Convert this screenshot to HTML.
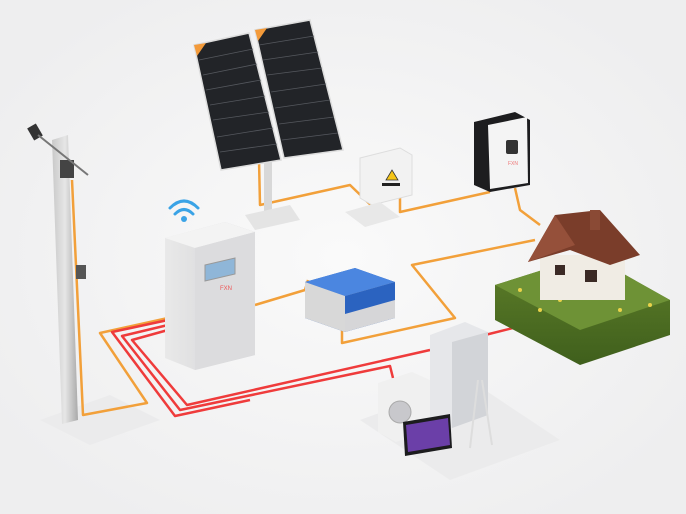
<!DOCTYPE html>
<html><head><meta charset="utf-8"><style>
html,body{margin:0;padding:0;background:#f4f4f5;}
svg{display:block}
</style></head><body>
<svg width="686" height="514" viewBox="0 0 686 514" xmlns="http://www.w3.org/2000/svg">
<defs>
<radialGradient id="bg" cx="50%" cy="50%" r="60%"><stop offset="0" stop-color="#fafafa"/><stop offset="1" stop-color="#eeeeef"/></radialGradient>
<linearGradient id="pole" x1="0" x2="1"><stop offset="0" stop-color="#c9c9c9"/><stop offset="0.5" stop-color="#e6e6e6"/><stop offset="1" stop-color="#a9a9a9"/></linearGradient>
<linearGradient id="cab" x1="0" x2="1"><stop offset="0" stop-color="#e9e9e9"/><stop offset="1" stop-color="#cfcfd2"/></linearGradient>
<linearGradient id="grass" x1="0" y1="0" x2="0" y2="1"><stop offset="0" stop-color="#5f7f2a"/><stop offset="1" stop-color="#3f5f1c"/></linearGradient>
</defs>
<rect width="686" height="514" fill="url(#bg)"/>
<!-- floor plates -->
<polygon points="40,420 110,395 160,420 90,445" fill="#ebebec"/>
<polygon points="360,420 470,380 560,440 450,480" fill="#ebebec"/>
<!-- orange wires -->
<g fill="none" stroke="#f2a03a" stroke-width="2.5" stroke-linejoin="round">
<polyline points="72,180 83,415 147,403 100,333 168,318"/>
<polyline points="255,305 305,290 308,280"/>
<polyline points="259,160 260,205 350,185 378,212"/>
<polyline points="400,198 400,212 490,192"/>
<polyline points="515,188 520,210 540,225"/>
<polyline points="342,330 342,343 455,318 412,265 535,240"/>
</g>
<!-- red wires -->
<g fill="none" stroke="#ef3b3b" stroke-width="2.5" stroke-linejoin="round">
<polyline points="168,330 132,340 187,405 430,350"/>
<polyline points="168,325 122,336 180,410 390,366 393,378"/>
<polyline points="168,320 112,332 175,416 250,400"/>
<polyline points="485,335 525,325"/>
</g>
<!-- pole -->
<polygon points="52,140 68,135 78,420 62,424" fill="url(#pole)"/>
<rect x="30" y="125" width="10" height="14" fill="#333" transform="rotate(-30 35 132)"/>
<rect x="60" y="160" width="14" height="18" fill="#444"/>
<rect x="76" y="265" width="10" height="14" fill="#555"/>
<line x1="38" y1="135" x2="88" y2="175" stroke="#777" stroke-width="2"/>
<!-- solar panel stand -->
<rect x="264" y="150" width="8" height="70" fill="#d8d8d8"/>
<polygon points="245,215 290,205 300,220 255,230" fill="#e4e4e4"/>
<!-- solar panels -->
<polygon points="194,45 249,33 281,160 221,170" fill="#222428" stroke="#ddd" stroke-width="1.5"/>
<polygon points="255,30 310,20 343,150 284,158" fill="#222428" stroke="#ddd" stroke-width="1.5"/>
<g stroke="#55585e" stroke-width="0.8">
<line x1="199" y1="60" x2="253" y2="49"/><line x1="203" y1="75" x2="257" y2="64"/><line x1="206" y1="90" x2="261" y2="80"/><line x1="210" y1="105" x2="265" y2="96"/><line x1="213" y1="120" x2="269" y2="112"/><line x1="217" y1="137" x2="273" y2="128"/><line x1="220" y1="152" x2="277" y2="144"/>
<line x1="259" y1="45" x2="314" y2="36"/><line x1="263" y1="60" x2="318" y2="52"/><line x1="267" y1="75" x2="322" y2="68"/><line x1="271" y1="92" x2="326" y2="84"/><line x1="275" y1="108" x2="330" y2="100"/><line x1="279" y1="124" x2="334" y2="117"/><line x1="282" y1="140" x2="338" y2="133"/>
</g>
<polygon points="194,45 206,43 197,56" fill="#f39a3a"/>
<polygon points="255,30 267,28 258,41" fill="#f39a3a"/>
<!-- combiner box -->
<polygon points="360,158 400,148 412,155 412,195 372,205 360,198" fill="#f2f2f2" stroke="#ddd"/>
<polygon points="386,180 392,170 398,180" fill="#f5c518" stroke="#333" stroke-width="0.8"/>
<rect x="382" y="183" width="18" height="3" fill="#222"/>
<polygon points="345,212 380,202 400,217 365,227" fill="#e8e8e8"/>
<!-- inverter -->
<polygon points="474,122 515,112 530,120 530,185 490,192 474,185" fill="#1d1d1f"/>
<polygon points="488,125 527,117 528,183 490,189" fill="#f4f4f4"/>
<rect x="506" y="140" width="12" height="14" rx="2" fill="#333"/>
<text x="508" y="165" font-family="Liberation Sans,sans-serif" font-size="5" fill="#e77">FXN</text>
<!-- wifi -->
<g fill="none" stroke="#3aa3e6" stroke-width="3" stroke-linecap="round">
<path d="M170 208 Q184 194 198 208"/><path d="M175 214 Q184 205 193 214"/>
</g>
<circle cx="184" cy="219" r="3" fill="#3aa3e6"/>
<!-- cabinet -->
<polygon points="165,238 225,222 255,232 255,355 195,370 165,358" fill="url(#cab)"/>
<polygon points="165,238 225,222 255,232 195,248" fill="#f3f3f3"/>
<polygon points="195,248 255,232 255,355 195,370" fill="#dcdcde"/>
<polygon points="205,265 235,258 235,274 205,281" fill="#8fb6d8" stroke="#999"/>
<text x="220" y="290" font-family="Liberation Sans,sans-serif" font-size="6" fill="#e55">FXN</text>
<!-- batteries -->
<polygon points="305,282 355,268 395,282 395,318 345,332 305,318" fill="#2b63c0"/>
<polygon points="305,282 355,268 395,282 345,296" fill="#4b86e0"/>
<polygon points="345,296 395,282 395,318 345,332" fill="#d6d6d8"/>
<polygon points="345,296 395,282 395,300 345,314" fill="#2b63c0"/>
<polygon points="305,282 345,296 345,332 305,318" fill="#d8d8d8"/>
<!-- house -->
<polygon points="495,285 590,255 670,300 670,335 580,365 495,320" fill="url(#grass)"/>
<polygon points="495,285 590,255 670,300 580,330" fill="#6e9236"/>
<g fill="#e9d24a"><circle cx="520" cy="290" r="2"/><circle cx="560" cy="300" r="2"/><circle cx="620" cy="310" r="2"/><circle cx="600" cy="280" r="2"/><circle cx="650" cy="305" r="2"/><circle cx="540" cy="310" r="2"/></g>
<rect x="540" y="255" width="85" height="45" fill="#f0ece4"/>
<polygon points="528,262 555,215 600,210 640,255 610,265 570,250" fill="#7a3d2a"/>
<polygon points="555,215 575,245 528,262" fill="#95503a"/>
<rect x="590" y="210" width="10" height="20" fill="#8a4a35"/>
<rect x="585" y="270" width="12" height="12" fill="#3b2a25"/>
<rect x="555" y="265" width="10" height="10" fill="#3b2a25"/>
<!-- appliances -->
<polygon points="430,335 465,322 488,332 488,415 452,428 430,418" fill="#e6e7ea"/>
<polygon points="452,342 488,332 488,415 452,428" fill="#d2d4d8"/>
<polygon points="378,383 412,372 430,380 430,430 396,442 378,432" fill="#f0f0f0"/>
<circle cx="400" cy="412" r="11" fill="#c8c8cc" stroke="#aaa"/>
<polygon points="403,422 450,414 452,448 405,456" fill="#1c1c1e"/>
<polygon points="406,425 448,418 450,445 408,452" fill="#6b3fa8"/>
<line x1="478" y1="380" x2="470" y2="448" stroke="#ddd" stroke-width="2"/>
<line x1="482" y1="380" x2="492" y2="445" stroke="#ddd" stroke-width="2"/>
</svg>
</body></html>
